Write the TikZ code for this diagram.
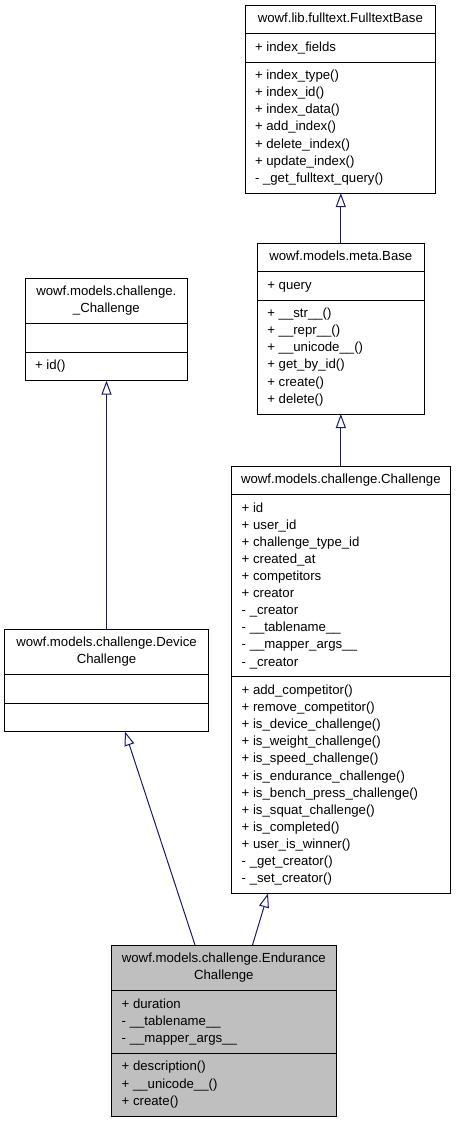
\documentclass[tikz,border=0pt]{standalone}
\usepackage{fontspec}
\setmainfont{Liberation Sans}
\usetikzlibrary{arrows.meta}
\definecolor{edgeblue}{RGB}{25,25,112}
\definecolor{hlgray}{RGB}{191,191,191}
\begin{document}
\begin{tikzpicture}[x=1bp, y=-1bp,
  box/.style={draw=black, line width=1bp, anchor=north west, inner sep=0pt, outer sep=0pt},
  txt/.style={anchor=north west, inner sep=0pt, outer sep=0pt, align=left, font=\fontsize{13.25}{17.16}\selectfont},
  ttl/.style={anchor=north, inner sep=0pt, outer sep=0pt, align=center, font=\fontsize{13.25}{17.16}\selectfont},
  inh/.style={draw=edgeblue, line width=1bp, -{Triangle[length=14bp, width=10bp, fill=white]}},
]
\useasboundingbox (0,0) rectangle (456,1123);

% ---- wowf.lib.fulltext.FulltextBase
\node[box, minimum width=190.7bp, minimum height=28.5bp] (fb1) at (245,5) {};
\node[box, minimum width=190.7bp, minimum height=28.5bp] (fb2) at (fb1.south west) {};
\node[box, minimum width=190.7bp, minimum height=131.1bp] (fb3) at (fb2.south west) {};
\node[ttl] (fb1t) at ([yshift=-5.7bp]fb1.north) {\strut wowf.lib.fulltext.FulltextBase};
\node[txt] (fb2t) at ([xshift=10bp,yshift=-5.7bp]fb2.north west) {\strut + index\_fields};
\node[txt] (fb3t) at ([xshift=10bp,yshift=-5.7bp]fb3.north west) {\strut + index\_type()\\\strut + index\_id()\\\strut + index\_data()\\\strut + add\_index()\\\strut + delete\_index()\\\strut + update\_index()\\\strut - \_get\_fulltext\_query()};

% ---- wowf.models.meta.Base
\node[box, minimum width=167bp, minimum height=28.5bp] (ba1) at (257.3,243) {};
\node[box, minimum width=167bp, minimum height=28.5bp] (ba2) at (ba1.south west) {};
\node[box, minimum width=167bp, minimum height=114bp] (ba3) at (ba2.south west) {};
\node[ttl] (ba1t) at ([yshift=-5.7bp]ba1.north) {\strut wowf.models.meta.Base};
\node[txt] (ba2t) at ([xshift=10bp,yshift=-5.7bp]ba2.north west) {\strut + query};
\node[txt] (ba3t) at ([xshift=10bp,yshift=-5.7bp]ba3.north west) {\strut + \_\_str\_\_()\\\strut + \_\_repr\_\_()\\\strut + \_\_unicode\_\_()\\\strut + get\_by\_id()\\\strut + create()\\\strut + delete()};

% ---- wowf.models.challenge._Challenge
\node[box, minimum width=162.7bp, minimum height=45.6bp] (uc1) at (25,278) {};
\node[box, minimum width=162.7bp, minimum height=28.5bp] (uc2) at (uc1.south west) {};
\node[box, minimum width=162.7bp, minimum height=28.5bp] (uc3) at (uc2.south west) {};
\node[ttl] (uc1t) at ([yshift=-5.7bp]uc1.north) {\strut wowf.models.challenge.\\\strut \_Challenge};
\node[txt] (uc3t) at ([xshift=10bp,yshift=-5.7bp]uc3.north west) {\strut + id()};

% ---- wowf.models.challenge.Challenge
\node[box, minimum width=218.3bp, minimum height=28.5bp] (ch1) at (231.7,466) {};
\node[box, minimum width=218.3bp, minimum height=182.4bp] (ch2) at (ch1.south west) {};
\node[box, minimum width=218.3bp, minimum height=216.6bp] (ch3) at (ch2.south west) {};
\node[ttl] (ch1t) at ([yshift=-5.7bp]ch1.north) {\strut wowf.models.challenge.Challenge};
\node[txt] (ch2t) at ([xshift=10bp,yshift=-5.7bp]ch2.north west) {\strut + id\\\strut + user\_id\\\strut + challenge\_type\_id\\\strut + created\_at\\\strut + competitors\\\strut + creator\\\strut - \_creator\\\strut - \_\_tablename\_\_\\\strut - \_\_mapper\_args\_\_\\\strut - \_creator};
\node[txt] (ch3t) at ([xshift=10bp,yshift=-5.7bp]ch3.north west) {\strut + add\_competitor()\\\strut + remove\_competitor()\\\strut + is\_device\_challenge()\\\strut + is\_weight\_challenge()\\\strut + is\_speed\_challenge()\\\strut + is\_endurance\_challenge()\\\strut + is\_bench\_press\_challenge()\\\strut + is\_squat\_challenge()\\\strut + is\_completed()\\\strut + user\_is\_winner()\\\strut - \_get\_creator()\\\strut - \_set\_creator()};

% ---- wowf.models.challenge.DeviceChallenge
\node[box, minimum width=203.6bp, minimum height=45.6bp] (dv1) at (4.7,629) {};
\node[box, minimum width=203.6bp, minimum height=28.5bp] (dv2) at (dv1.south west) {};
\node[box, minimum width=203.6bp, minimum height=28.5bp] (dv3) at (dv2.south west) {};
\node[ttl] (dv1t) at ([yshift=-5.7bp]dv1.north) {\strut wowf.models.challenge.Device\\\strut Challenge};

% ---- wowf.models.challenge.EnduranceChallenge
\node[box, fill=hlgray, minimum width=224.3bp, minimum height=45.6bp] (en1) at (111.7,945) {};
\node[box, fill=hlgray, minimum width=224.3bp, minimum height=62.7bp] (en2) at (en1.south west) {};
\node[box, fill=hlgray, minimum width=224.3bp, minimum height=62.7bp] (en3) at (en2.south west) {};
\node[ttl] (en1t) at ([yshift=-5.7bp]en1.north) {\strut wowf.models.challenge.Endurance\\\strut Challenge};
\node[txt] (en2t) at ([xshift=10bp,yshift=-5.7bp]en2.north west) {\strut + duration\\\strut - \_\_tablename\_\_\\\strut - \_\_mapper\_args\_\_};
\node[txt] (en3t) at ([xshift=10bp,yshift=-5.7bp]en3.north west) {\strut + description()\\\strut + \_\_unicode\_\_()\\\strut + create()};

% ---- inheritance connectors
\draw[inh] (ba1.north) -- (ba1.north |- fb3.south);
\draw[inh] (ch1.north) -- (ch1.north |- ba3.south);
\draw[inh] (dv1.north) -- (dv1.north |- uc3.south);
\draw[inh] ([xshift=-28.85bp]en1.north) -- ([xshift=18.5bp]dv3.south);
\draw[inh] ([xshift=28.65bp]en1.north) -- ([xshift=-72.85bp]ch3.south);
\end{tikzpicture}
\end{document}
